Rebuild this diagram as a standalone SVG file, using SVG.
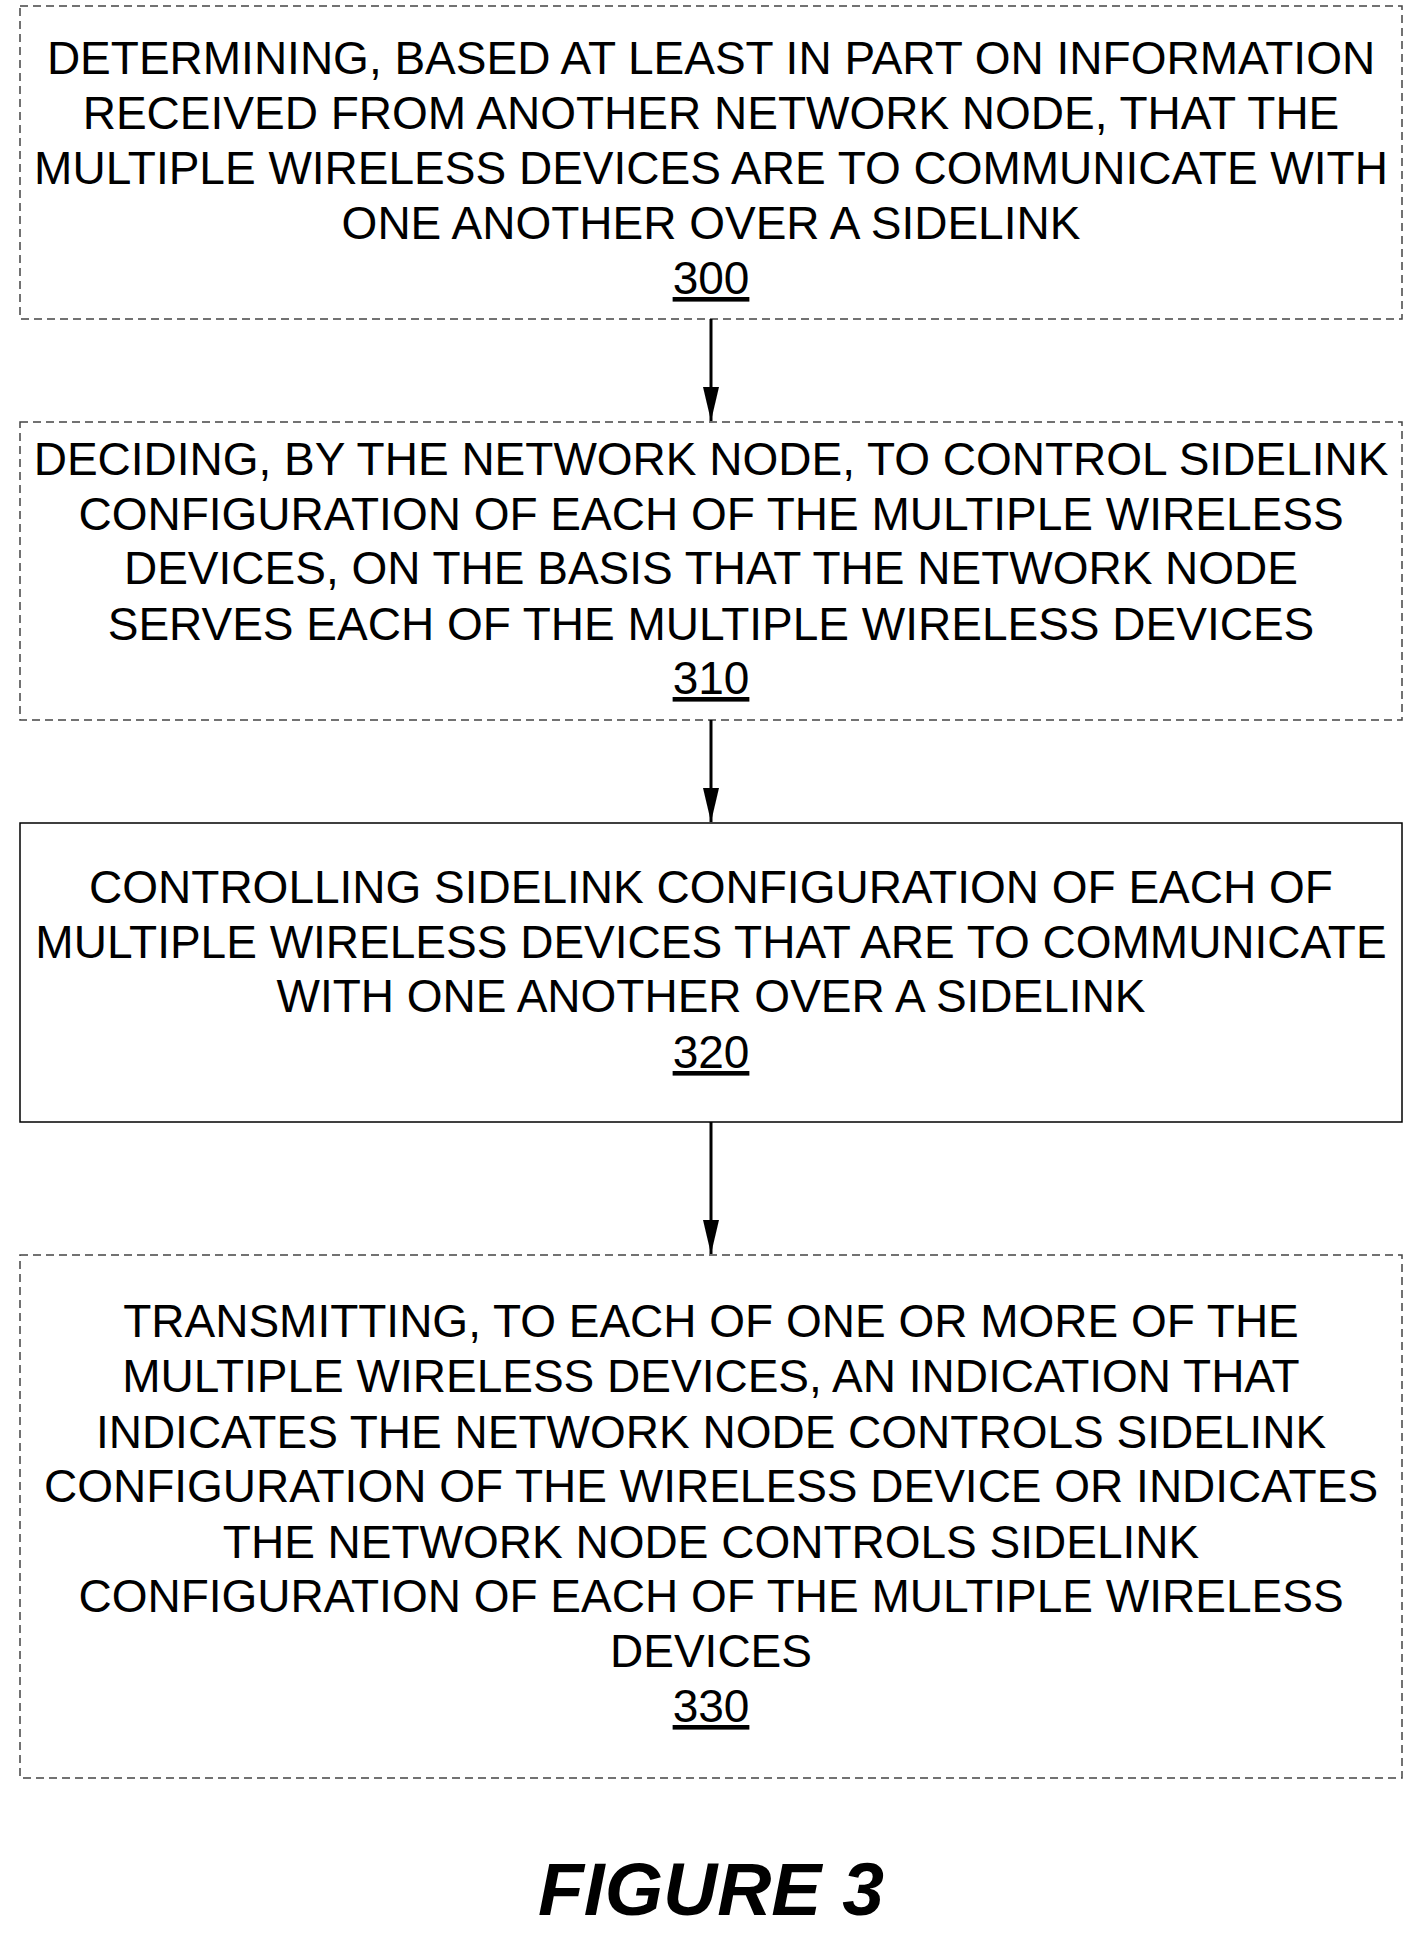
<svg xmlns="http://www.w3.org/2000/svg" width="1423" height="1940" viewBox="0 0 1423 1940">
<style>
.b{fill:#fff;stroke:#000;stroke-width:1.5}
.d{stroke-dasharray:8,5;stroke:#444}
text{font-family:"Liberation Sans",Arial,sans-serif;font-size:46px;text-anchor:middle;fill:#000}
.u{text-decoration:underline}
.c{stroke:#000;stroke-width:3;fill:none}
</style>
<defs><marker id="ah" markerWidth="34" markerHeight="16" refX="34" refY="8" orient="auto" markerUnits="userSpaceOnUse"><path d="M0,0 L34,8 L0,16 Z" fill="#000"/></marker></defs>
<rect width="1423" height="1940" fill="#fff"/>
<g id="n300"><rect class="b d" x="20" y="6" width="1382" height="313"/>
<text x="711" y="74">DETERMINING, BASED AT LEAST IN PART ON INFORMATION</text>
<text x="711" y="129">RECEIVED FROM ANOTHER NETWORK NODE, THAT THE</text>
<text x="711" y="184">MULTIPLE WIRELESS DEVICES ARE TO COMMUNICATE WITH</text>
<text x="711" y="239">ONE ANOTHER OVER A SIDELINK</text>
<text class="u" x="711" y="294">300</text></g>
<g id="n310"><rect class="b d" x="20" y="422" width="1382" height="298"/>
<text x="711" y="475">DECIDING, BY THE NETWORK NODE, TO CONTROL SIDELINK</text>
<text x="711" y="530">CONFIGURATION OF EACH OF THE MULTIPLE WIRELESS</text>
<text x="711" y="584">DEVICES, ON THE BASIS THAT THE NETWORK NODE</text>
<text x="711" y="640">SERVES EACH OF THE MULTIPLE WIRELESS DEVICES</text>
<text class="u" x="711" y="694">310</text></g>
<g id="n320"><rect class="b" x="20" y="823" width="1382" height="299"/>
<text x="711" y="903">CONTROLLING SIDELINK CONFIGURATION OF EACH OF</text>
<text x="711" y="958">MULTIPLE WIRELESS DEVICES THAT ARE TO COMMUNICATE</text>
<text x="711" y="1012">WITH ONE ANOTHER OVER A SIDELINK</text>
<text class="u" x="711" y="1068">320</text></g>
<g id="n330"><rect class="b d" x="20" y="1255" width="1382" height="523"/>
<text x="711" y="1337">TRANSMITTING, TO EACH OF ONE OR MORE OF THE</text>
<text x="711" y="1392">MULTIPLE WIRELESS DEVICES, AN INDICATION THAT</text>
<text x="711" y="1448">INDICATES THE NETWORK NODE CONTROLS SIDELINK</text>
<text x="711" y="1502">CONFIGURATION OF THE WIRELESS DEVICE OR INDICATES</text>
<text x="711" y="1558">THE NETWORK NODE CONTROLS SIDELINK</text>
<text x="711" y="1612">CONFIGURATION OF EACH OF THE MULTIPLE WIRELESS</text>
<text x="711" y="1667">DEVICES</text>
<text class="u" x="711" y="1722">330</text></g>
<g id="connectors">
<line class="c" x1="711" y1="319" x2="711" y2="421" marker-end="url(#ah)"/>
<line class="c" x1="711" y1="720" x2="711" y2="822" marker-end="url(#ah)"/>
<line class="c" x1="711" y1="1122" x2="711" y2="1254" marker-end="url(#ah)"/>
</g>
<text x="711" y="1915" style="font-size:75px;font-weight:bold;font-style:italic">FIGURE 3</text>
</svg>
